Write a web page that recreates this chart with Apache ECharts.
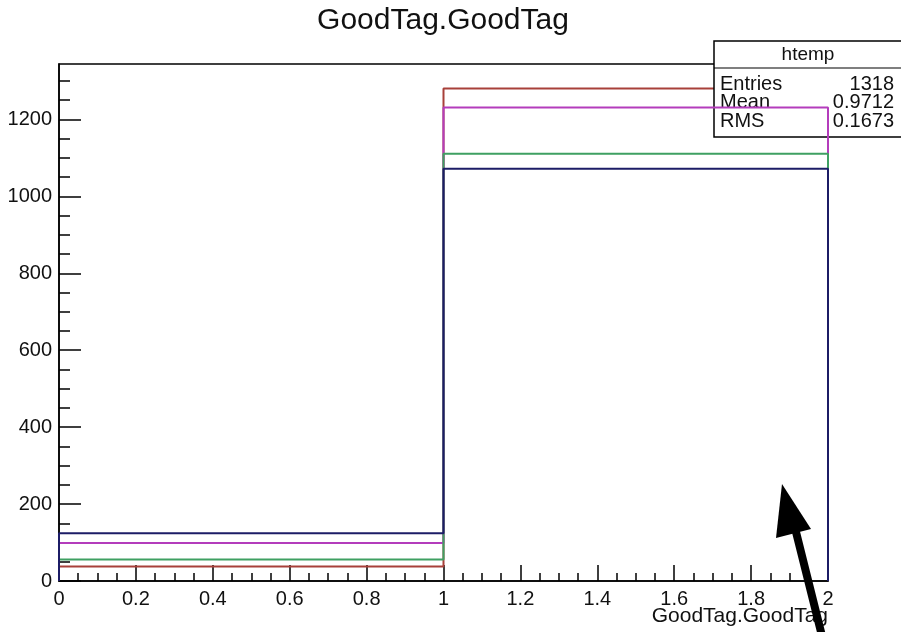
<!DOCTYPE html>
<html>
<head>
<meta charset="utf-8">
<script src="https://cdn.jsdelivr.net/npm/echarts@6/dist/echarts.min.js"></script>
<style>
  html, body { margin: 0; padding: 0; background: #fff; }
  #chart { width: 901px; height: 632px; }
</style>
</head>
<body>
<div id="chart"></div>
<script>
// Bin edges of the GoodTag.GoodTag histograms (two bins: 0-1 and 1-2)
const binEdges = [0, 1, 2];

// Bin contents of each overlaid histogram
const htempCounts   = [38, 1280];   // red, the one the stats box describes
const magentaCounts = [99, 1231];
const greenCounts   = [56, 1111];
const navyCounts    = [124, 1072];

// Axis ranges and ticks
const xMin = 0, xMax = 2;
const yMin = 0, yMax = 1344;
const xMajorTicks = [0, 0.2, 0.4, 0.6, 0.8, 1, 1.2, 1.4, 1.6, 1.8, 2];
const xMinorTicks = [0.05, 0.1, 0.15, 0.25, 0.3, 0.35, 0.45, 0.5, 0.55, 0.65, 0.7, 0.75,
                     0.85, 0.9, 0.95, 1.05, 1.1, 1.15, 1.25, 1.3, 1.35, 1.45, 1.5, 1.55,
                     1.65, 1.7, 1.75, 1.85, 1.9, 1.95];
const yMajorTicks = [0, 200, 400, 600, 800, 1000, 1200];
const yMinorTicks = [50, 100, 150, 250, 300, 350, 450, 500, 550, 650, 700, 750,
                     850, 900, 950, 1050, 1100, 1150, 1250, 1300];

// Stats box content
const statsName = 'htemp';
const statsRows = [['Entries', '1318'], ['Mean', '0.9712'], ['RMS', '0.1673']];

const titleText = 'GoodTag.GoodTag';
const xTitle = 'GoodTag.GoodTag';

// Turn bin edges + contents into a histogram outline (down to zero at both ends)
function outline(counts) {
  const pts = [[binEdges[0], 0]];
  for (let i = 0; i < counts.length; i++) {
    pts.push([binEdges[i], counts[i]]);
    pts.push([binEdges[i + 1], counts[i]]);
  }
  pts.push([binEdges[binEdges.length - 1], 0]);
  return pts;
}

const FONT = '"Liberation Sans", Arial, Helvetica, sans-serif';

function histSeries(name, counts, color, z) {
  return {
    name: name,
    type: 'line',
    data: outline(counts),
    showSymbol: false,
    symbol: 'none',
    silent: true,
    z: z,
    lineStyle: { color: color, width: 2 },
    animation: false
  };
}

const chart = echarts.init(document.getElementById('chart'), null, { renderer: 'canvas' });

const plotLeft = 59, plotRight = 828, plotTop = 64, plotBottom = 581;

const boxLeft = 714, boxTop = 41, boxRight = 905, headerBottom = 68, boxBottom = 137;

function label(text, x, y, size, align, z) {
  return { type: 'text', x: x, y: y, z: z,
    style: { text: text, font: size + 'px ' + FONT, fill: '#111', align: align, verticalAlign: 'middle' } };
}

const statsElements = [
  { type: 'rect', shape: { x: boxLeft, y: boxTop, width: boxRight - boxLeft, height: boxBottom - boxTop },
    style: { fill: '#fff', stroke: '#000', lineWidth: 1.5 }, z: 3 },
  { type: 'line', shape: { x1: boxLeft, y1: headerBottom, x2: boxRight, y2: headerBottom },
    style: { stroke: '#000', lineWidth: 1.2 }, z: 3 },
  label(statsName, 808, 55, 19, 'center', 3)
];
statsRows.forEach(function (row, i) {
  const y = 84 + i * 18.5;
  statsElements.push(label(row[0], 720, y, 20, 'left', 3));
  statsElements.push(label(row[1], 894, y, 20, 'right', 3));
});

// Title and x-axis title
const textElements = [
  label(titleText, 443, 21, 30, 'center', 10),
  label(xTitle, 828, 616, 21, 'right', 10)
];

// Pointer arrow in the lower right of the frame
const arrowElements = [
  { type: 'line', shape: { x1: 795, y1: 528, x2: 823, y2: 640 },
    style: { stroke: '#000', lineWidth: 8 }, z: 20 },
  { type: 'polygon', shape: { points: [[782, 484], [776, 538], [811, 529]] },
    style: { fill: '#000' }, z: 20 }
];

const option = {
  animation: false,
  backgroundColor: '#fff',
  grid: {
    left: plotLeft, right: 901 - plotRight, top: plotTop, bottom: 632 - plotBottom,
    show: true, borderColor: '#000', borderWidth: 1.5, backgroundColor: 'transparent'
  },
  xAxis: [
    {
      type: 'value', min: xMin, max: xMax, position: 'bottom',
      axisLine: { show: true, onZero: false, lineStyle: { color: '#000', width: 1.5 } },
      axisTick: { show: true, inside: true, length: 16, customValues: xMajorTicks,
                  lineStyle: { color: '#000', width: 1.5 } },
      axisLabel: { show: true, customValues: xMajorTicks, margin: 8,
                   fontFamily: FONT, fontSize: 20, color: '#111',
                   formatter: function (v) { return String(v); } },
      splitLine: { show: false }
    },
    {
      type: 'value', min: xMin, max: xMax, position: 'bottom', gridIndex: 0,
      axisLine: { show: false },
      axisTick: { show: true, inside: true, length: 8, customValues: xMinorTicks,
                  lineStyle: { color: '#000', width: 1.5 } },
      axisLabel: { show: false },
      splitLine: { show: false }
    }
  ],
  yAxis: [
    {
      type: 'value', min: yMin, max: yMax, position: 'left',
      axisLine: { show: true, onZero: false, lineStyle: { color: '#000', width: 1.5 } },
      axisTick: { show: true, inside: true, length: 22, customValues: yMajorTicks,
                  lineStyle: { color: '#000', width: 1.5 } },
      axisLabel: { show: true, customValues: yMajorTicks, margin: 7,
                   fontFamily: FONT, fontSize: 20, color: '#111',
                   formatter: function (v) { return String(v); } },
      splitLine: { show: false }
    },
    {
      type: 'value', min: yMin, max: yMax, position: 'left', gridIndex: 0,
      axisLine: { show: false },
      axisTick: { show: true, inside: true, length: 11, customValues: yMinorTicks,
                  lineStyle: { color: '#000', width: 1.5 } },
      axisLabel: { show: false },
      splitLine: { show: false }
    }
  ],
  series: [
    histSeries('htemp', htempCounts, '#a8403a', 1),
    histSeries('magenta', magentaCounts, '#b43cbc', 5),
    histSeries('green', greenCounts, '#3fa062', 6),
    histSeries('navy', navyCounts, '#1c1c66', 7)
  ],
  graphic: statsElements.concat(textElements, arrowElements)
};

chart.setOption(option);
</script>
</body>
</html>
